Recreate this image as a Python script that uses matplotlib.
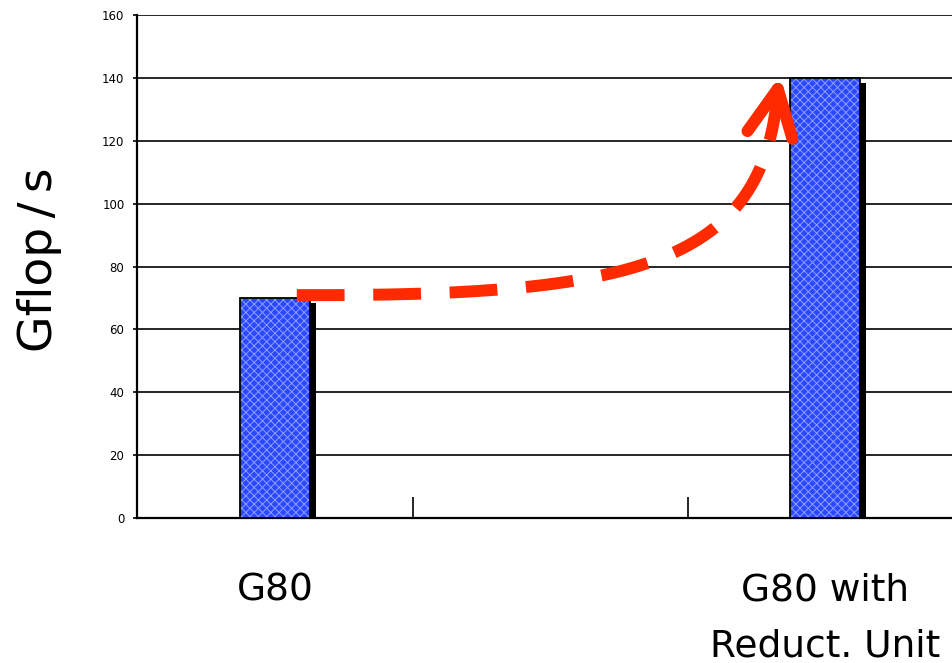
import numpy as np
import matplotlib
matplotlib.use("Agg")
import matplotlib.pyplot as plt
import matplotlib.transforms as mtransforms

plt.rcParams['font.family'] = ['DejaVu Sans', 'Noto Sans CJK JP']
plt.rcParams['hatch.linewidth'] = 0.7

# Data
categories = ["G80", "", "G80 with\nReduct. Unit"]
gflops = [70, 0, 140]
yticks = [0, 20, 40, 60, 80, 100, 120, 140, 160]
shown = [0, 2]  # slots that carry a bar

fig = plt.figure(figsize=(9.53, 6.63), dpi=100)
ax = fig.add_axes([137 / 953, 145 / 663, 816 / 953, 503 / 663])

ax.set_xlim(-0.503, 2.464)
ax.set_ylim(0, 160)

bar_w = 0.254
xs = np.array(shown, dtype=float)
vals = np.array([gflops[i] for i in shown])

# drop shadow behind each bar (clipped at the axis floor)
shadow_tr = mtransforms.offset_copy(ax.transData, fig=fig, x=6, y=-5, units='dots')
ax.bar(xs, vals, width=bar_w, color='black', edgecolor='none',
       transform=shadow_tr, zorder=2)
# hatched blue bars
ax.bar(xs, vals, width=bar_w, color='#2a49ff', edgecolor='#8c9eff',
       hatch='xxxx', linewidth=0, zorder=3)
ax.bar(xs, vals, width=bar_w, fill=False, edgecolor='black',
       linewidth=1.3, zorder=4)

# grid and axes
ax.set_yticks(yticks)
ax.set_yticklabels([str(t) for t in yticks], fontsize=8.5)
ax.yaxis.grid(True, color='black', linewidth=1.2, zorder=1)
ax.set_axisbelow(True)
ax.tick_params(axis='y', direction='out', length=3, width=1.2, pad=6)
ax.set_xticks([0.5, 1.5])
ax.set_xticklabels([])
ax.tick_params(axis='x', direction='in', length=15, width=1.2)
for s in ['top', 'right']:
    ax.spines[s].set_visible(False)
ax.spines['left'].set_linewidth(1.6)
ax.spines['bottom'].set_linewidth(1.6)

# y-axis title
fig.text(40 / 953, 1 - 260 / 663, "Gflop\u2009/\u2009s", rotation=90,
         ha='center', va='center', fontsize=34)

# category labels below the axis
xt = ax.get_xaxis_transform()
ax.text(0, -0.145, categories[0], transform=xt, ha='center', va='center', fontsize=27)
line1, line2 = categories[2].split("\n")
ax.text(2, -0.145, line1, transform=xt, ha='center', va='center', fontsize=27)
ax.text(2, -0.255, line2, transform=xt, ha='center', va='center', fontsize=27)

# dashed growth arrow from the first bar to the second
red = '#ff2a00'
p0 = np.array([0.078, 70.9])
p1 = np.array([1.30, 70.5])
p2 = np.array([1.78, 80.0])
p3 = np.array([1.827, 136.5])
t = np.linspace(0, 1, 200)[:, None]
curve = ((1 - t) ** 3) * p0 + 3 * ((1 - t) ** 2) * t * p1 + 3 * (1 - t) * t ** 2 * p2 + t ** 3 * p3
ax.plot(curve[:, 0], curve[:, 1], color=red, linewidth=8.6,
        linestyle=(0, (4.0, 2.4)), dash_capstyle='butt', zorder=6, clip_on=False)

# open arrowhead built in display space from the curve's end tangent
tip_d = ax.transData.transform(p3)
prev_d = ax.transData.transform(curve[-8])
direction = tip_d - prev_d
ang = np.arctan2(direction[1], direction[0])
arm = 52
for da in (np.deg2rad(150), np.deg2rad(-158)):
    a = ang + da
    end_d = tip_d + arm * np.array([np.cos(a), np.sin(a)])
    pts = ax.transData.inverted().transform(np.vstack([tip_d, end_d]))
    ax.plot(pts[:, 0], pts[:, 1], color=red, linewidth=8.6,
            solid_capstyle='round', zorder=6, clip_on=False)

fig.savefig("out.png", dpi=100)
